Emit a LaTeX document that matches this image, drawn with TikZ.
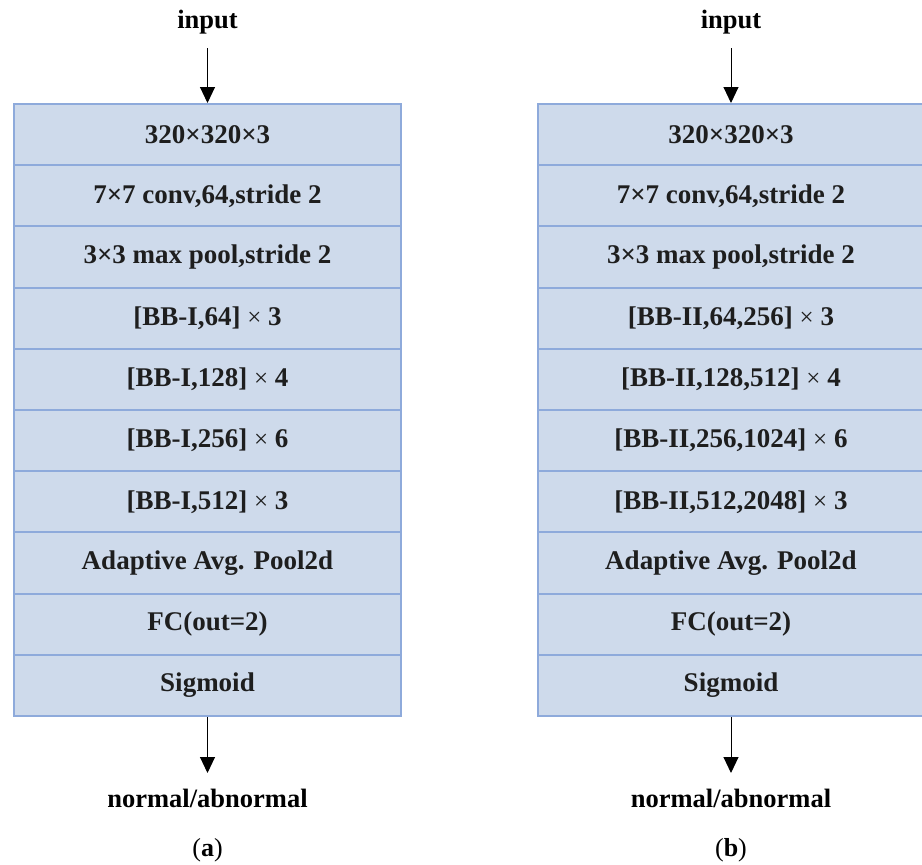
\documentclass[tikz,border=0pt]{standalone}
\usepackage{fontspec}
\setmainfont{Liberation Serif}
\usetikzlibrary{arrows.meta}
\definecolor{rowfill}{RGB}{206,218,235}
\definecolor{rowline}{RGB}{142,170,219}
\definecolor{txt}{RGB}{30,30,30}
\newcommand{\tm}{{\mdseries\fontsize{25}{27}\selectfont ×}}
\begin{document}
\begin{tikzpicture}[x=1pt,y=-1pt,
  rowbox/.style={draw=rowline,fill=rowfill,line width=2pt,minimum width=387pt,minimum height=61.2pt,inner sep=0pt,anchor=north,
    font=\fontsize{27}{29}\selectfont\bfseries,text=txt},
  lbl/.style={font=\fontsize{26.5}{28}\selectfont\bfseries,text=black,inner sep=0pt},
  subcap/.style={font=\fontsize{26}{28}\selectfont,text=black,inner sep=0pt},
  arr/.style={-{Triangle[length=16pt,width=15pt]},line width=1pt}]
\useasboundingbox (0,0) rectangle (922,865);
% left column
\node[rowbox] (a0) at (207.5,103) {320×320×3};
\node[rowbox] (a1) at (207.5,164.2) {7×7 conv,64,stride 2};
\node[rowbox] (a2) at (207.5,225.4) {3×3 max pool,stride 2};
\node[rowbox] (a3) at (207.5,286.6) {[BB-I,64] \tm{} 3};
\node[rowbox] (a4) at (207.5,347.8) {[BB-I,128] \tm{} 4};
\node[rowbox] (a5) at (207.5,409) {[BB-I,256] \tm{} 6};
\node[rowbox] (a6) at (207.5,470.2) {[BB-I,512] \tm{} 3};
\node[rowbox] (a7) at (207.5,531.4) {Adaptive Avg. Pool2d};
\node[rowbox] (a8) at (207.5,592.6) {FC(out=2)};
\node[rowbox] (a9) at (207.5,653.8) {Sigmoid};
\node[lbl] (ain) at (207.5,22) {input};
\node[lbl] (aout) at (207.5,798) {normal/abnormal};
\node[subcap] (acap) at (207.5,850) {(\textbf{a})};
\coordinate (ainb) at (207.5,48);
\coordinate (aoutt) at (207.5,773);
\draw[arr] (ainb) -- (a0.north);
\draw[arr] (a9.south) -- (aoutt);
% right column
\node[rowbox] (b0) at (731,103) {320×320×3};
\node[rowbox] (b1) at (731,164.2) {7×7 conv,64,stride 2};
\node[rowbox] (b2) at (731,225.4) {3×3 max pool,stride 2};
\node[rowbox] (b3) at (731,286.6) {[BB-II,64,256] \tm{} 3};
\node[rowbox] (b4) at (731,347.8) {[BB-II,128,512] \tm{} 4};
\node[rowbox] (b5) at (731,409) {[BB-II,256,1024] \tm{} 6};
\node[rowbox] (b6) at (731,470.2) {[BB-II,512,2048] \tm{} 3};
\node[rowbox] (b7) at (731,531.4) {Adaptive Avg. Pool2d};
\node[rowbox] (b8) at (731,592.6) {FC(out=2)};
\node[rowbox] (b9) at (731,653.8) {Sigmoid};
\node[lbl] (bin) at (731,22) {input};
\node[lbl] (bout) at (731,798) {normal/abnormal};
\node[subcap] (bcap) at (731,850) {(\textbf{b})};
\coordinate (binb) at (731,48);
\coordinate (boutt) at (731,773);
\draw[arr] (binb) -- (b0.north);
\draw[arr] (b9.south) -- (boutt);
\end{tikzpicture}
\end{document}
